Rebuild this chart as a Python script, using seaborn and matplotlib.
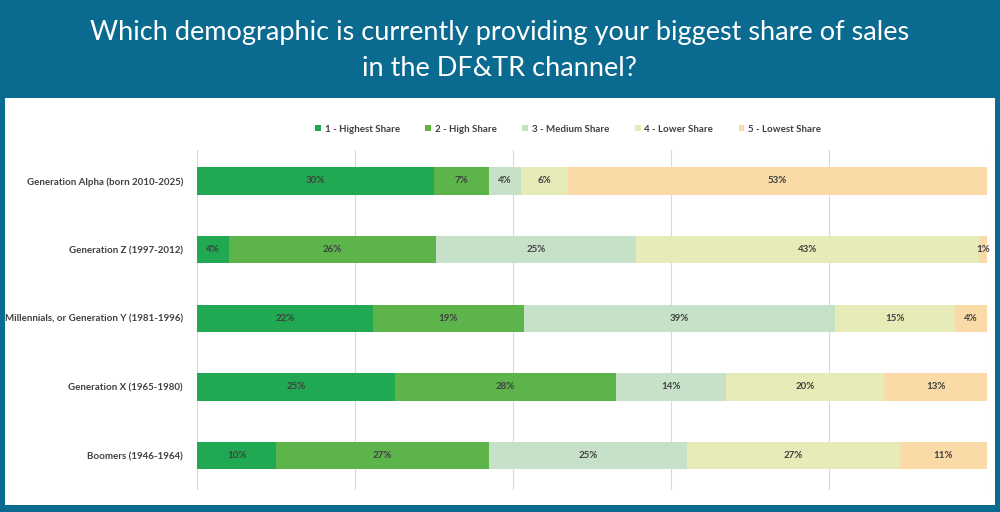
import matplotlib
matplotlib.use("Agg")
import matplotlib.pyplot as plt
import seaborn as sns
import pandas as pd
import numpy as np

categories = ["Generation Alpha (born 2010-2025)", "Generation Z (1997-2012)",
              "Millennials, or Generation Y (1981-1996)", "Generation X (1965-1980)",
              "Boomers (1946-1964)"]
series = ["1 - Highest Share", "2 - High Share", "3 - Medium Share", "4 - Lower Share", "5 - Lowest Share"]
highest = [30, 4, 22, 25, 10]
high = [7, 26, 19, 28, 27]
medium = [4, 25, 39, 14, 25]
lower = [6, 43, 15, 20, 27]
lowest = [53, 1, 4, 13, 11]
colors = ["#21a852", "#5cb44b", "#c6e1c8", "#e6ebb7", "#fadba8"]

vals = np.array([highest, high, medium, lower, lowest], dtype=float)
norm = vals / vals.sum(axis=0) * 100

FONT = "Lato"
fig = plt.figure(figsize=(10, 5.12), dpi=100)
fig.patch.set_facecolor("#0b6a8f")
fig.add_artist(plt.Rectangle((0.005, 0.014), 0.99, 0.795, transform=fig.transFigure,
                             facecolor="white", edgecolor="none", zorder=0))
fig.text(0.5, 0.937, "Which demographic is currently providing your biggest share of sales",
         ha="center", va="center", color="white", fontsize=19.5, family=FONT)
fig.text(0.5, 0.867, "in the DF&TR channel?", ha="center", va="center", color="white",
         fontsize=19.5, family=FONT)

ax = fig.add_axes([0.197, 0.043, 0.79, 0.664])
ax.set_facecolor("white")
left = np.zeros(len(categories))
for i, s in enumerate(series):
    df = pd.DataFrame({"cat": categories, "v": norm[i]})
    sns.barplot(data=df, y="cat", x="v", left=left, color=colors[i], width=0.4,
                saturation=1, ax=ax, orient="h", label=s, edgecolor="none")
    for j in range(len(categories)):
        ax.text(left[j] + norm[i][j] / 2, j, f"{int(vals[i][j])}%", ha="center", va="center",
                fontsize=7, fontweight="bold", color="#404040", family=FONT)
    left = left + norm[i]

ax.set_xlim(0, 100)
ax.set_xticks([0, 20, 40, 60, 80, 100])
ax.set_xticklabels([])
ax.tick_params(length=0, pad=10)
ax.grid(axis="x", color="#d9d9d9", linewidth=0.8)
ax.set_axisbelow(True)
for sp in ax.spines.values():
    sp.set_visible(False)
ax.set_xlabel("")
ax.set_ylabel("")
for t in ax.get_yticklabels():
    t.set_fontsize(7)
    t.set_fontweight("bold")
    t.set_color("#404040")
    t.set_family(FONT)
ax.set_ylim(4.5, -0.45)
ax.legend(loc="upper center", bbox_to_anchor=(0.47, 1.1), ncol=5, frameon=False,
          prop={"weight": "bold", "size": 7, "family": FONT}, handlelength=0.6, handleheight=0.6,
          columnspacing=2.6, handletextpad=0.4, labelcolor="#404040")
fig.savefig("out.png", dpi=100, facecolor=fig.get_facecolor())
